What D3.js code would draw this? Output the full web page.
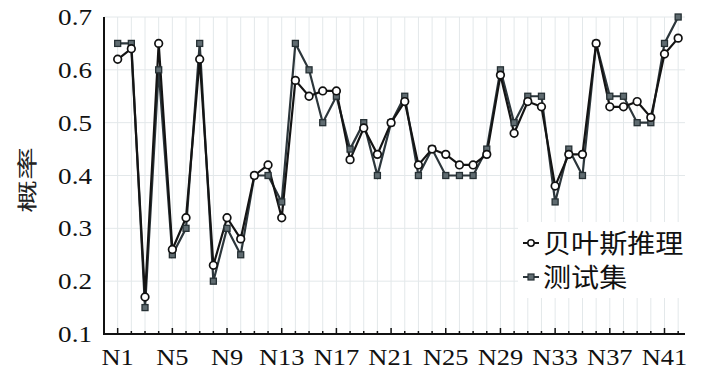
<!DOCTYPE html>
<html>
<head>
<meta charset="utf-8">
<script src="https://cdn.jsdelivr.net/npm/d3@7"></script>
<style>
  body { margin: 0; background: #fff; }
  svg { display: block; }
</style>
</head>
<body>
<script>
// canvas + plot area
var w = 709;
var h = 376;
var plotLeft = 104, plotRight = 685, plotTop = 17, plotBottom = 334;

// data
var categories = d3.range(1, 43).map(function(i) { return "N" + i; });
var tickLabels = ["N1", "N5", "N9", "N13", "N17", "N21", "N25", "N29", "N33", "N37", "N41"];
var yTicks = [0.1, 0.2, 0.3, 0.4, 0.5, 0.6, 0.7];
var bayes = [0.62, 0.64, 0.17, 0.65, 0.26, 0.32, 0.62, 0.23, 0.32, 0.28,
             0.40, 0.42, 0.32, 0.58, 0.55, 0.56, 0.56, 0.43, 0.49, 0.44,
             0.50, 0.54, 0.42, 0.45, 0.44, 0.42, 0.42, 0.44, 0.59, 0.48,
             0.54, 0.53, 0.38, 0.44, 0.44, 0.65, 0.53, 0.53, 0.54, 0.51,
             0.63, 0.66];
var testSet = [0.65, 0.65, 0.15, 0.60, 0.25, 0.30, 0.65, 0.20, 0.30, 0.25,
               0.40, 0.40, 0.35, 0.65, 0.60, 0.50, 0.55, 0.45, 0.50, 0.40,
               0.50, 0.55, 0.40, 0.45, 0.40, 0.40, 0.40, 0.45, 0.60, 0.50,
               0.55, 0.55, 0.35, 0.45, 0.40, 0.65, 0.55, 0.55, 0.50, 0.50,
               0.65, 0.70];
var seriesNames = ["贝叶斯推理", "测试集"];

var x = d3.scaleLinear().domain([0, 42.5]).range([plotLeft, plotRight]);
var y = d3.scaleLinear().domain([0.1, 0.7]).range([plotBottom, plotTop]);
function xi(i) { return x(i + 1); }

var svg = d3.select("body").append("svg")
            .attr("width", w)
            .attr("height", h);

// grid
svg.append("g").selectAll("line")
   .data(categories)
   .enter().append("line")
   .attr("x1", function(d, i) { return xi(i); })
   .attr("x2", function(d, i) { return xi(i); })
   .attr("y1", plotTop).attr("y2", plotBottom)
   .attr("stroke", "#e3e8ea").attr("stroke-width", 1);
svg.append("g").selectAll("line")
   .data(yTicks.slice(1))
   .enter().append("line")
   .attr("x1", plotLeft).attr("x2", plotRight)
   .attr("y1", function(d) { return y(d); })
   .attr("y2", function(d) { return y(d); })
   .attr("stroke", "#e3e8ea").attr("stroke-width", 1);

// series lines
var line = d3.line()
             .x(function(d, i) { return xi(i); })
             .y(function(d) { return y(d); });

svg.append("path").datum(testSet)
   .attr("d", line).attr("fill", "none")
   .attr("stroke", "#2c363b").attr("stroke-width", 2.2);
svg.append("path").datum(bayes)
   .attr("d", line).attr("fill", "none")
   .attr("stroke", "#141414").attr("stroke-width", 2.2);

svg.append("g").selectAll("rect")
   .data(testSet).enter().append("rect")
   .attr("x", function(d, i) { return xi(i) - 3; })
   .attr("y", function(d) { return y(d) - 3; })
   .attr("width", 6).attr("height", 6)
   .attr("fill", "#5f6b70").attr("stroke", "#263034").attr("stroke-width", 1.3);
svg.append("g").selectAll("circle")
   .data(bayes).enter().append("circle")
   .attr("cx", function(d, i) { return xi(i); })
   .attr("cy", function(d) { return y(d); })
   .attr("r", 3.8)
   .attr("fill", "#fff").attr("stroke", "#111").attr("stroke-width", 1.7);

// axes
svg.append("line").attr("x1", plotLeft).attr("x2", plotLeft)
   .attr("y1", plotTop).attr("y2", plotBottom + 1)
   .attr("stroke", "#111").attr("stroke-width", 2);
svg.append("line").attr("x1", plotLeft - 1).attr("x2", plotRight)
   .attr("y1", plotBottom).attr("y2", plotBottom)
   .attr("stroke", "#111").attr("stroke-width", 2);

// x ticks (inside)
svg.append("g").selectAll("line")
   .data(categories).enter().append("line")
   .attr("x1", function(d, i) { return xi(i); })
   .attr("x2", function(d, i) { return xi(i); })
   .attr("y1", plotBottom)
   .attr("y2", function(d) { return tickLabels.indexOf(d) >= 0 ? plotBottom - 6 : plotBottom - 3; })
   .attr("stroke", "#111").attr("stroke-width", 1.5);

svg.append("g").selectAll("text")
   .data(tickLabels).enter().append("text")
   .attr("transform", function(d) {
       return "translate(" + xi(categories.indexOf(d)) + ",365) scale(1.15,1)";
   })
   .attr("text-anchor", "middle")
   .attr("font-family", "Liberation Serif, Times New Roman, serif")
   .attr("font-size", 23)
   .attr("fill", "#111")
   .text(function(d) { return d; });

svg.append("g").selectAll("text")
   .data(yTicks).enter().append("text")
   .attr("transform", function(d) {
       return "translate(92," + (y(d) + 8) + ") scale(1.18,1)";
   })
   .attr("text-anchor", "end")
   .attr("font-family", "Liberation Serif, Times New Roman, serif")
   .attr("font-size", 23)
   .attr("fill", "#111")
   .text(function(d) { return d.toFixed(1); });

svg.append("text")
   .attr("transform", "translate(35,180) rotate(-90) scale(1.65,1)")
   .attr("text-anchor", "middle")
   .attr("font-family", "Noto Sans CJK SC, sans-serif")
   .attr("font-size", 20)
   .attr("fill", "#222")
   .text("概率");

// legend
var lg = svg.append("g");
lg.append("rect").attr("x", 518).attr("y", 222)
  .attr("width", 172).attr("height", 76).attr("fill", "#fff");
seriesNames.forEach(function(name, k) {
    var cy = 243 + k * 34;
    lg.append("line").attr("x1", 523).attr("x2", 539)
      .attr("y1", cy).attr("y2", cy)
      .attr("stroke", k === 0 ? "#161616" : "#2c363b").attr("stroke-width", 2);
    if (k === 0) {
        lg.append("circle").attr("cx", 531).attr("cy", cy).attr("r", 3.2)
          .attr("fill", "#fff").attr("stroke", "#111").attr("stroke-width", 1.5);
    } else {
        lg.append("rect").attr("x", 528).attr("y", cy - 3).attr("width", 6).attr("height", 6)
          .attr("fill", "#5f6b70").attr("stroke", "#263034").attr("stroke-width", 1.2);
    }
    lg.append("text")
      .attr("transform", "translate(543," + (cy + 10) + ") scale(1.08,1)")
      .attr("font-family", "Noto Sans CJK SC, sans-serif")
      .attr("font-size", 26)
      .attr("fill", "#111")
      .text(name);
});
</script>
</body>
</html>
